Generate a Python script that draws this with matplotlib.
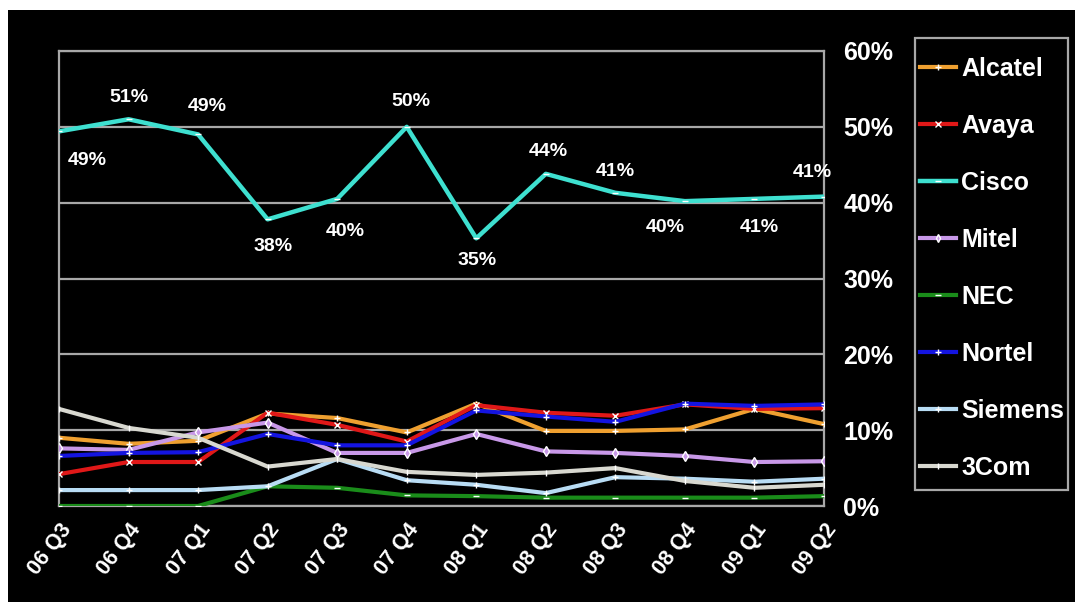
import matplotlib
matplotlib.use("Agg")
import matplotlib.pyplot as plt
from matplotlib.patches import Rectangle
from matplotlib.ticker import FixedLocator

plt.rcParams['font.family'] = ['Liberation Sans', 'DejaVu Sans']

quarters = ["06 Q3", "06 Q4", "07 Q1", "07 Q2", "07 Q3", "07 Q4",
            "08 Q1", "08 Q2", "08 Q3", "08 Q4", "09 Q1", "09 Q2"]

alcatel = [9.0, 8.2, 8.6, 12.2, 11.6, 9.7, 13.5, 9.9, 9.9, 10.1, 12.8, 10.8]
avaya   = [4.2, 5.8, 5.8, 12.3, 10.7, 8.5, 13.3, 12.3, 11.9, 13.4, 12.8, 12.9]
cisco   = [49.4, 51.0, 49.0, 37.8, 40.5, 50.0, 35.3, 43.8, 41.3, 40.2, 40.5, 40.8]
mitel   = [7.6, 7.4, 9.7, 11.0, 7.0, 7.0, 9.5, 7.2, 7.0, 6.6, 5.8, 5.9]
nec     = [0.0, 0.0, 0.0, 2.6, 2.4, 1.4, 1.3, 1.1, 1.1, 1.1, 1.1, 1.3]
nortel  = [6.6, 7.0, 7.1, 9.5, 8.0, 8.0, 12.6, 11.8, 11.1, 13.5, 13.2, 13.4]
siemens = [2.1, 2.1, 2.1, 2.6, 6.2, 3.4, 2.8, 1.7, 3.8, 3.6, 3.2, 3.6]
threecom = [12.8, 10.3, 9.0, 5.2, 6.2, 4.5, 4.1, 4.4, 5.0, 3.3, 2.4, 2.8]

cisco_labels = ["49%", "51%", "49%", "38%", "40%", "50%", "35%", "44%", "41%", "40%", "41%", "41%"]

y_ticks = [0, 10, 20, 30, 40, 50, 60]
y_tick_labels = ["0%", "10%", "20%", "30%", "40%", "50%", "60%"]

# label placement offsets in pixels (dx, dy), style only
label_offsets = [(28, -29), (0, 22), (9, 28), (5, -27), (8, -33), (4, 25),
                 (1, -22), (2, 22), (0, 21), (-20, -26), (5, -29), (-12, 24)]

series = [
    ("Alcatel", alcatel, "#EFA030", "+"),
    ("Avaya", avaya, "#E01818", "x"),
    ("Cisco", cisco, "#3EE0D0", "_"),
    ("Mitel", mitel, "#C898E8", "d"),
    ("NEC", nec, "#1A8C1A", "_"),
    ("Nortel", nortel, "#1414E0", "+"),
    ("Siemens", siemens, "#B8DCF4", "+"),
    ("3Com", threecom, "#D8D8D0", "|"),
]

W, H = 1075, 602
fig = plt.figure(figsize=(10.75, 6.02), dpi=100, facecolor="black")
fig.patches.append(Rectangle((0, 1 - 10 / H), 1, 10 / H, transform=fig.transFigure,
                             facecolor="white", edgecolor="none", zorder=0))
fig.patches.append(Rectangle((0, 0), 8 / W, 1, transform=fig.transFigure,
                             facecolor="white", edgecolor="none", zorder=0))
# legend frame
fig.patches.append(Rectangle((915 / W, 1 - 490 / H), (1068 - 915) / W, (490 - 38) / H,
                             transform=fig.transFigure, facecolor="black",
                             edgecolor="#A8A8A8", lw=1.6, zorder=1))

ax = fig.add_axes([59 / W, 1 - 506 / H, (824 - 59) / W, (506 - 51) / H])
ax.set_facecolor("black")

x = list(range(len(quarters)))
handles = []
for name, vals, col, mk in series:
    lw = 3.2 if name == "Cisco" else 3.0
    h, = ax.plot(x, vals, color=col, lw=lw, marker=mk, markersize=5,
                 markeredgecolor="white", markeredgewidth=1.0, label=name, zorder=3)
    handles.append(h)

for i, (v, lab) in enumerate(zip(cisco, cisco_labels)):
    dx, dy = label_offsets[i]
    ax.annotate(lab, (i, v), xytext=(dx, dy), textcoords="offset pixels",
                ha="center", va="center", color="white", fontsize=14, fontweight="bold",
                zorder=5, annotation_clip=False)

ax.set_xlim(0, 11)
ax.set_ylim(0, 60)
ax.yaxis.set_major_locator(FixedLocator(y_ticks))
ax.grid(axis="y", color="#A8A8A8", lw=1.6, zorder=1)
ax.set_axisbelow(True)
for sp in ax.spines.values():
    sp.set_color("#A8A8A8")
    sp.set_linewidth(1.6)

ax.yaxis.tick_right()
ax.set_yticks(y_ticks)
ax.set_yticklabels(y_tick_labels, color="white", fontsize=18, fontweight="bold")
ax.tick_params(axis="y", length=0, pad=14)

ax.set_xticks(x)
ax.set_xticklabels(quarters, rotation=53, ha="right", rotation_mode="anchor",
                   color="white", fontsize=15.5, fontweight="bold")
ax.tick_params(axis="x", length=0, pad=10)

leg = fig.legend(handles=handles, loc="upper left",
                 bbox_to_anchor=(920 / W, 1 - 57 / H),
                 frameon=False, fontsize=18, labelspacing=1.32, handlelength=1.45,
                 handletextpad=0.2, borderpad=0, borderaxespad=0, markerscale=0.8)
leg.set_zorder(5)
for t in leg.get_texts():
    t.set_color("white")
    t.set_fontweight("bold")

fig.savefig("out.png", dpi=100, facecolor=fig.get_facecolor())
